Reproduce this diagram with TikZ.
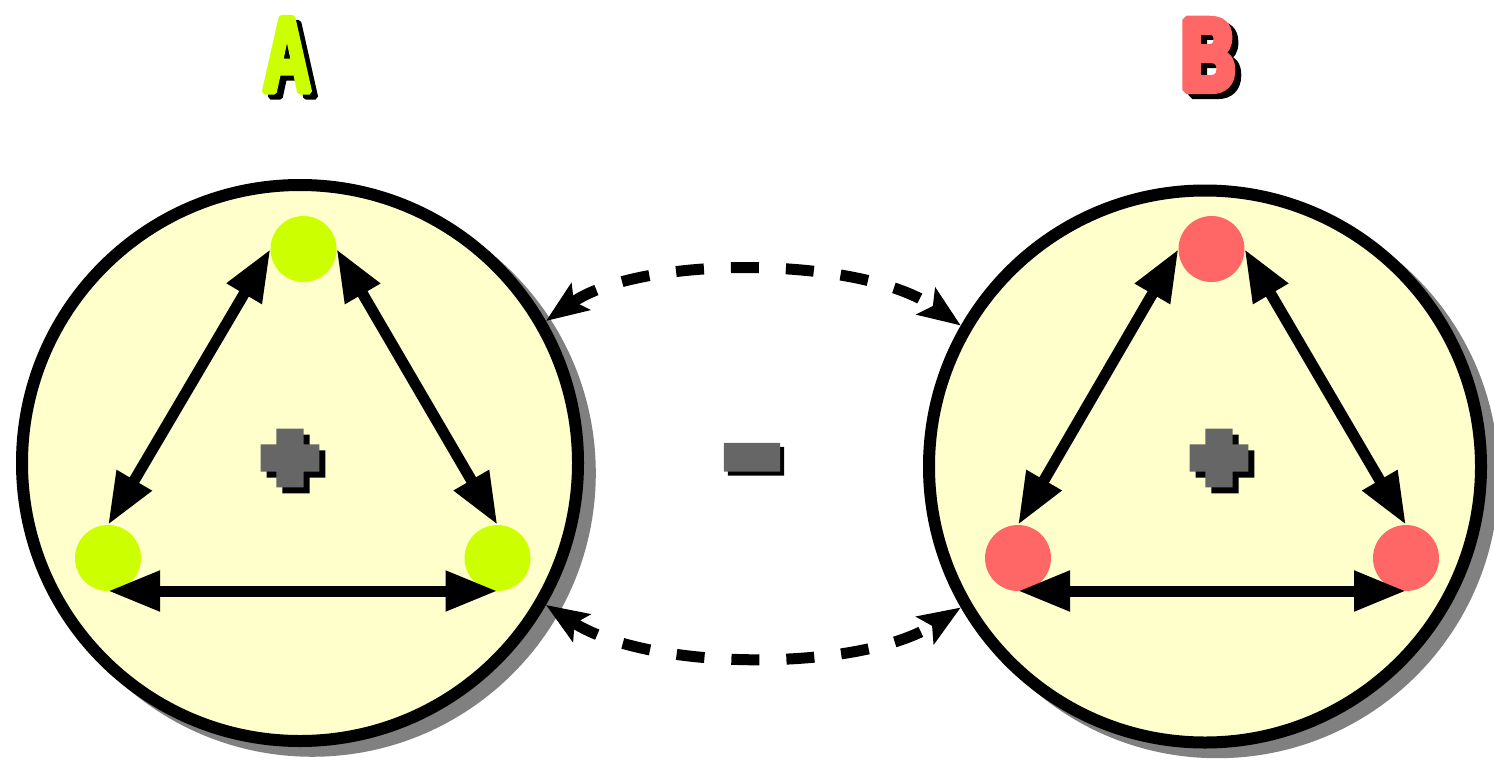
\documentclass[tikz,border=0pt]{standalone}
\usepackage{fontspec}
\usetikzlibrary{arrows.meta,shadows}
\newfontfamily\letterfontA{Liberation Sans}[FakeStretch=0.62,FakeBold=5]
\newfontfamily\letterfontB{Liberation Sans}[FakeStretch=0.72,FakeBold=8]
\newfontfamily\signfont{DejaVu Sans}[FakeBold=32]
\newfontfamily\minusfont{DejaVu Sans}[FakeBold=32,FakeStretch=1.9]
\definecolor{limeA}{HTML}{CCFF00}
\definecolor{salmonB}{HTML}{FF6666}
\definecolor{paleY}{HTML}{FFFFCC}
\definecolor{shadowG}{HTML}{808080}
\definecolor{signG}{HTML}{666666}
\tikzset{
  bigcirc/.style={circle, draw=black, line width=12pt, fill=paleY, inner sep=0pt,
    minimum size=#1,
    drop shadow={shadow xshift=12pt, shadow yshift=-10pt, shadow scale=1.02, fill=shadowG, opacity=1}},
  dotnode/.style={circle, fill=#1, draw=none, inner sep=0pt, outer sep=0pt, minimum size=66pt},
  biarrow/.style={line width=11pt, {Triangle[length=52pt,width=38pt]}-{Triangle[length=52pt,width=38pt]}},
  dasharc/.style={line width=11pt, dash pattern=on 28pt off 27pt,
    {Stealth[length=42pt,width=32pt,inset=8pt]}-{Stealth[length=42pt,width=32pt,inset=8pt]}},
  lettersty/.style={anchor=base, inner sep=0pt, line join=bevel},
  signsty/.style={inner sep=0pt, font=\signfont\bfseries\fontsize{62}{62}\selectfont},
  minussty/.style={inner sep=0pt, font=\minusfont\bfseries\fontsize{62}{62}\selectfont}
}
\begin{document}
\begin{tikzpicture}[x=1pt,y=-1pt]
\useasboundingbox (0,0) rectangle (1494,763);
% titles
\node[lettersty, text=black, font=\letterfontA\bfseries\fontsize{108}{108}\selectfont] (lblAsh) at (293,97) {A};
\node[lettersty, text=limeA, font=\letterfontA\bfseries\fontsize{108}{108}\selectfont] (lblA) at (287,92) {A};
\node[lettersty, text=black, font=\letterfontB\bfseries\fontsize{102}{102}\selectfont] (lblBsh) at (1214,95) {B};
\node[lettersty, text=salmonB, font=\letterfontB\bfseries\fontsize{102}{102}\selectfont] (lblB) at (1208,90) {B};
% circles
\node[bigcirc=556pt] (cA) at (300,463) {};
\node[bigcirc=552pt] (cB) at (1205,466.5) {};
% dots A
\node[dotnode=limeA] (tA) at (303.5,249) {};
\node[dotnode=limeA] (lA) at (108,558) {};
\node[dotnode=limeA] (rA) at (497.5,558) {};
% dots B
\node[dotnode=salmonB] (tB) at (1211.5,249) {};
\node[dotnode=salmonB] (lB) at (1018,558) {};
\node[dotnode=salmonB] (rB) at (1406,558) {};
% arrows A
\draw[biarrow] (tA.west) -- (lA.north);
\draw[biarrow] (tA.east) -- (rA.north);
\draw[biarrow] (lA.south) -- (rA.south);
% arrows B
\draw[biarrow] (tB.west) -- (lB.north);
\draw[biarrow] (tB.east) -- (rB.north);
\draw[biarrow] (lB.south) -- (rB.south);
% plus signs
\node[signsty, text=black] (plAsh) at (296,464) {+};
\node[signsty, text=signG] (plA) at (290,458) {+};
\node[signsty, text=black] (plBsh) at (1225,464) {+};
\node[signsty, text=signG] (plB) at (1219,458) {+};
% minus
\node[minussty, text=black] (minsh) at (756,468) {-};
\node[minussty, text=signG] (mins) at (752,464) {-};
% dashed connectors
\draw[dasharc] (cA.30) .. controls (640,255) and (860,255) .. (cB.150);
\draw[dasharc] (cA.-30) .. controls (650,672) and (860,672) .. (cB.210);
\end{tikzpicture}
\end{document}
